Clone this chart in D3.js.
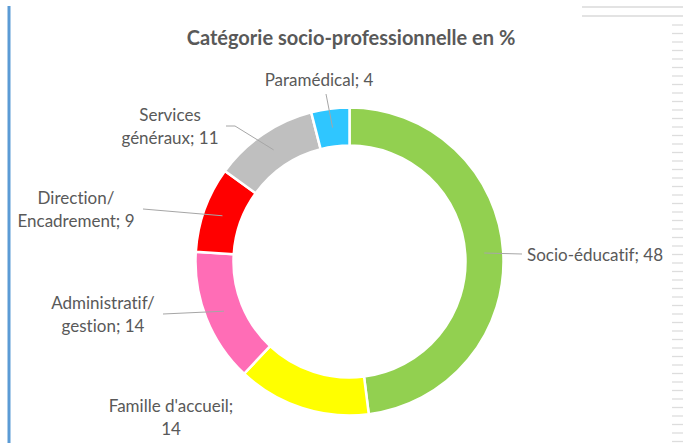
<!DOCTYPE html>
<html>
<head>
<meta charset="utf-8">
<script src="https://cdn.jsdelivr.net/npm/d3@7/dist/d3.min.js"></script>
<style>
  body { margin: 0; background: #fff; }
  svg { display: block; font-family: Lato, "Open Sans", sans-serif; font-variant-ligatures: none; }
</style>
</head>
<body>
<svg id="chart" width="683" height="443"></svg>
<script>
// data
var categories = ["Socio-éducatif", "Famille d'accueil", "Administratif/ gestion", "Direction/ Encadrement", "Services généraux", "Paramédical"];
var values = [48, 14, 14, 9, 11, 4];
var colors = ["#92D050", "#FFFF00", "#FF6DB6", "#FF0000", "#BFBFBF", "#2FC6FF"];
// how each label is broken into lines (Excel wraps them)
var labelLines = [
  ["Socio-éducatif; 48"],
  ["Famille d'accueil;", "14"],
  ["Administratif/", "gestion; 14"],
  ["Direction/", "Encadrement; 9"],
  ["Services", "généraux; 11"],
  ["Paramédical; 4"]
];

// layout
var labelPos = [[527, 261], [171, 412], [103, 309], [76, 204], [170, 121], [319, 86]];
var leaderStart = [[522, 254], null, [163, 314], [143, 209], [[226, 126], [235, 126]], [326, 94]];

var svg = d3.select("#chart"),
  width = +svg.attr("width"),
  height = +svg.attr("height"),
  cx = 349.5, cy = 261.5,
  outerR = 154, innerR = 116;

// frame bits around the chart
svg.append("line")
  .attr("x1", 9).attr("x2", 9).attr("y1", 6).attr("y2", height)
  .attr("stroke", "#5B9BD5").attr("stroke-width", 3);

svg.append("g").selectAll("line")
  .data([7, 16])
  .enter().append("line")
  .attr("x1", 582).attr("x2", width)
  .attr("y1", function (d) { return d; }).attr("y2", function (d) { return d; })
  .attr("stroke", "#DADADA").attr("stroke-width", 1.5);

svg.append("g").selectAll("line")
  .data(d3.range(25, height, 8.5))
  .enter().append("line")
  .attr("x1", 672).attr("x2", width)
  .attr("y1", function (d) { return d; }).attr("y2", function (d) { return d; })
  .attr("stroke", "#DDDDDD").attr("stroke-width", 1.3);

svg.append("text")
  .attr("x", 351).attr("y", 45)
  .attr("text-anchor", "middle")
  .attr("fill", "#595959")
  .style("font-size", "20px")
  .style("font-weight", "bold")
  .text("Catégorie socio-professionnelle en %");

var pie = d3.pie().sort(null).value(function (d) { return d; });
var arc = d3.arc().innerRadius(innerR).outerRadius(outerR);
var mid = d3.arc().innerRadius(135).outerRadius(135);

var arcs = pie(values);

var g = svg.append("g").attr("transform", "translate(" + cx + "," + cy + ")");

g.selectAll("path")
  .data(arcs)
  .enter().append("path")
  .attr("d", arc)
  .attr("fill", function (d, i) { return colors[i]; })
  .attr("stroke", "#fff")
  .attr("stroke-width", 2.5);

// leader lines, ending at the slice centroid
arcs.forEach(function (d, i) {
  var s = leaderStart[i];
  if (!s) return;
  var pts = Array.isArray(s[0]) ? s.slice() : [s];
  var c = mid.centroid(d);
  pts.push([c[0] + cx, c[1] + cy]);
  svg.append("path")
    .attr("d", d3.line()(pts))
    .attr("fill", "none")
    .attr("stroke", "#A6A6A6")
    .attr("stroke-width", 1);
});

var labels = svg.append("g")
  .attr("fill", "#595959")
  .style("font-size", "17px");

labelLines.forEach(function (lines, i) {
  var t = labels.append("text")
    .attr("x", labelPos[i][0])
    .attr("y", labelPos[i][1])
    .attr("text-anchor", i === 0 ? "start" : "middle");
  lines.forEach(function (l, j) {
    t.append("tspan")
      .attr("x", labelPos[i][0])
      .attr("dy", j === 0 ? 0 : 23)
      .text(l);
  });
});
</script>
</body>
</html>
